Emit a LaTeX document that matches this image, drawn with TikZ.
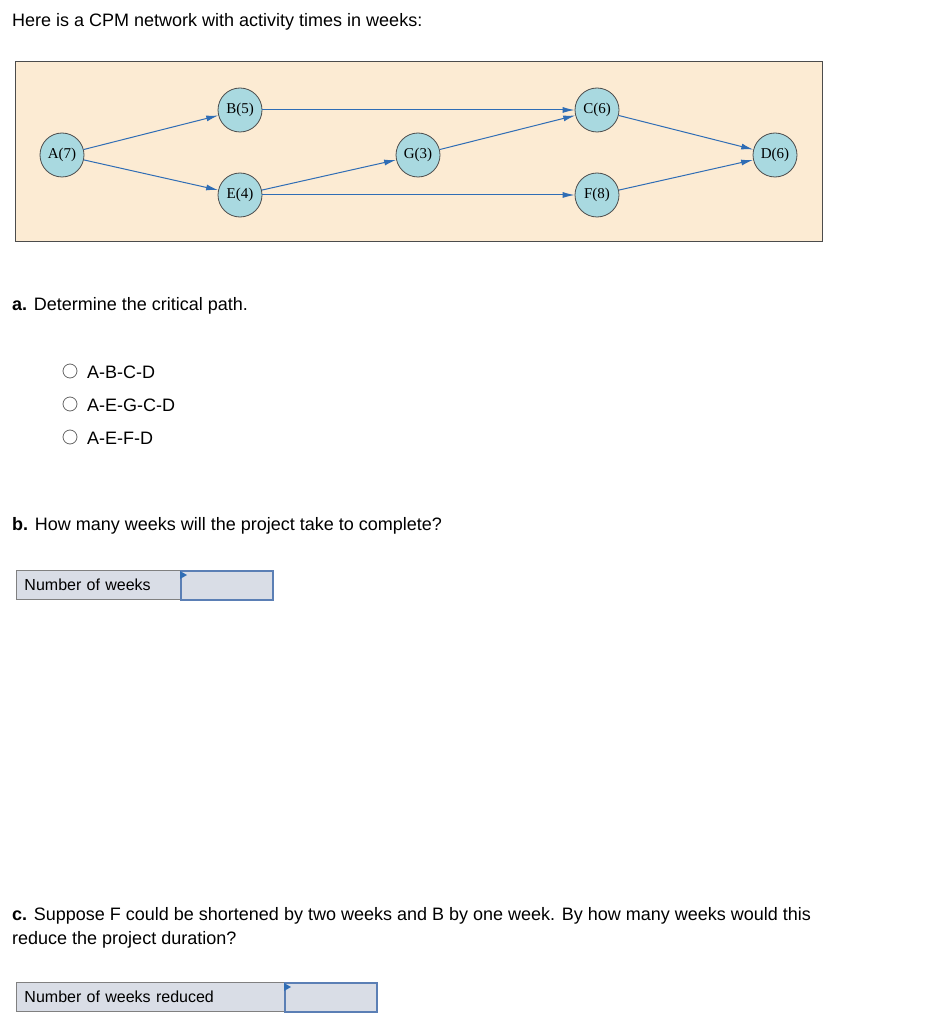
\documentclass[tikz,border=0pt]{standalone}
\usepackage{fontspec}
\setmainfont{Liberation Sans}
\newfontfamily\serifnode{Liberation Serif}
\usetikzlibrary{arrows.meta}
\definecolor{beige}{HTML}{FCEBD3}
\definecolor{nodefill}{HTML}{A9D9E0}
\definecolor{arr}{HTML}{2F6DB5}
\definecolor{boxfill}{HTML}{D9DDE6}
\definecolor{inborder}{HTML}{5B7FB5}
\tikzset{
 act/.style={circle,draw=black!70,fill=nodefill,line width=0.8pt,minimum size=44pt,inner sep=0pt,font=\serifnode\fontsize{15}{15}\selectfont},
 link/.style={draw=arr,line width=1pt,-{Latex[length=12pt,width=6pt]}},
 txt/.style={anchor=west,inner sep=0pt,font=\fontsize{18}{22}\selectfont},
 radio/.style={circle,draw=black!60,line width=0.8pt,minimum size=14pt,inner sep=0pt},
 lbl/.style={draw=black!50,fill=boxfill,line width=1pt,anchor=north west,inner sep=0pt,font=\fontsize{16}{16}\selectfont,text height=11pt,align=left},
 inp/.style={draw=inborder,fill=boxfill,line width=1.5pt,anchor=north west,inner sep=0pt}
}
\begin{document}
\begin{tikzpicture}[x=1pt,y=-1pt]
\useasboundingbox (0,0) rectangle (925,1024);
\node[txt] (t0) at (12,22) {Here is a CPM network with activity times in weeks:};
\node[draw=black!70,fill=beige,line width=1.2pt,minimum width=807pt,minimum height=180pt,anchor=north west,inner sep=0pt] (frame) at (15,61) {};
\node[act] (A) at (62,155) {A(7)};
\node[act] (B) at (240,110) {B(5)};
\node[act] (E) at (240,195) {E(4)};
\node[act] (G) at (418,155) {G(3)};
\node[act] (C) at (597,110) {C(6)};
\node[act] (F) at (597,195) {F(8)};
\node[act] (D) at (775,155) {D(6)};
\draw[link] (A) -- (B);
\draw[link] (A) -- (E);
\draw[link] (B) -- (C);
\draw[link] (E) -- (G);
\draw[link] (G) -- (C);
\draw[link] (E) -- (F);
\draw[link] (C) -- (D);
\draw[link] (F) -- (D);
\node[txt] (qa) at (12,306) {\textbf{a.} Determine the critical path.};
\node[radio] (r1) at (70,371) {};
\node[radio] (r2) at (70,404) {};
\node[radio] (r3) at (70,437) {};
\node[txt] (o1) at (87,372) {A-B-C-D};
\node[txt] (o2) at (87,405) {A-E-G-C-D};
\node[txt] (o3) at (87,438) {A-E-F-D};
\node[txt] (qb) at (12,526) {\textbf{b.} How many weeks will the project take to complete?};
\node[lbl,minimum width=164pt,minimum height=29pt,text width=158pt] (l1) at (16,570) {\hspace*{5pt}Number of weeks};
\node[inp,minimum width=92pt,minimum height=29pt] (i1) at (180,570) {};
\fill[arr] (180,571) -- (187,575) -- (180,579) -- cycle;
\node[txt] (qc1) at (12,916) {\textbf{c.} Suppose F could be shortened by two weeks and B by one week. By how many weeks would this};
\node[txt] (qc2) at (12,940) {reduce the project duration?};
\node[lbl,minimum width=268pt,minimum height=29pt,text width=262pt] (l2) at (16,982) {\hspace*{5pt}Number of weeks reduced};
\node[inp,minimum width=92pt,minimum height=29pt] (i2) at (284,982) {};
\fill[arr] (284,983) -- (291,987) -- (284,991) -- cycle;
\end{tikzpicture}
\end{document}
